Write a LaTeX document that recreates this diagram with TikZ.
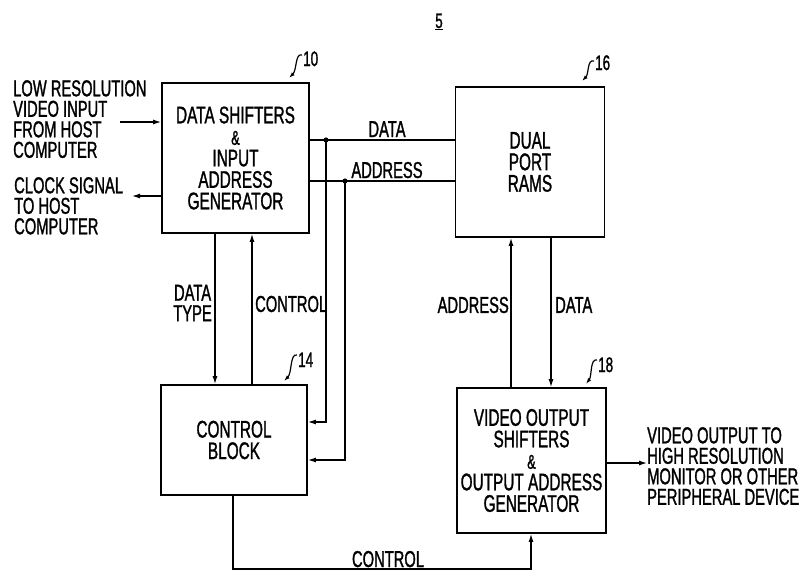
\documentclass[tikz,border=0pt]{standalone}
\usepackage{fontspec}
\usepackage{tikz}
\usetikzlibrary{arrows.meta}

\newfontfamily\patfont{Liberation Sans}[FakeStretch=0.64, FakeBold=1.2]

\tikzset{
  box/.style={draw, line width=1.8pt, inner sep=0pt, align=center,
    font=\patfont\fontsize{24}{21.5}\selectfont},
  wire/.style={line width=1.2pt},
  sig/.style={line width=1.2pt, -{Latex[length=8pt,width=5pt]}},
  lead/.style={line width=1.2pt, -{Latex[length=6pt,width=4pt]}},
  lbl/.style={inner sep=0pt, font=\patfont\fontsize{23}{20.5}\selectfont},
  refnum/.style={inner sep=0pt, font=\patfont\fontsize{21}{21}\selectfont}
}

\begin{document}
\begin{tikzpicture}[x=1pt, y=-1pt]
            \useasboundingbox (0,0) rectangle (810,571);

            % blocks
            \node[box, minimum width=147pt, minimum height=150pt] (b10) at (235.5,158)
                {DATA SHIFTERS\\{\fontsize{20}{21.5}\selectfont\&}\\INPUT\\ADDRESS\\GENERATOR};
            \node[box, minimum width=149pt, minimum height=150pt] (b16) at (530,162)
                {DUAL\\PORT\\RAMS};
            \node[box, minimum width=146pt, minimum height=110pt] (b14) at (234,440)
                {CONTROL\\BLOCK};
            \node[box, minimum width=149pt, minimum height=145pt] (b18) at (531.5,460.5)
                {VIDEO OUTPUT\\SHIFTERS\\{\fontsize{20}{21.5}\selectfont\&}\\OUTPUT ADDRESS\\GENERATOR};

            % free ends and bends
            \coordinate (vin) at (120,122);
            \coordinate (clk) at (132,196);
            \coordinate (dj) at (326,140);
            \coordinate (aj) at (345,181);
            \coordinate (d14) at (0,422);
            \coordinate (a14) at (0,460);
            \coordinate (dtx) at (215,0);
            \coordinate (ctx) at (252,0);
            \coordinate (ax) at (511,0);
            \coordinate (dx) at (551,0);
            \coordinate (cx) at (233,0);
            \coordinate (cb) at (531,569);
            \coordinate (vout) at (647,463);

            % outside signals
            \node[lbl, anchor=north west, align=left] (lowres) at (13,80)
                {LOW RESOLUTION\\VIDEO INPUT\\FROM HOST\\COMPUTER};
            \node[lbl, anchor=north west, align=left] (clock) at (14,177)
                {CLOCK SIGNAL\\TO HOST\\COMPUTER};
            \node[lbl, anchor=north west, align=left] (hires) at (647,427)
                {VIDEO OUTPUT TO\\HIGH RESOLUTION\\MONITOR OR OTHER\\PERIPHERAL DEVICE};

            \draw[sig] (vin) -- (vin -| b10.west);
            \draw[sig] (b10.west |- clk) -- (clk);
            \draw[sig] (b18.east |- vout) -- (vout);

            % buses to the rams
            \draw[wire] (b10.east |- dj) -- (b16.west |- dj);
            \draw[wire] (b10.east |- aj) -- (b16.west |- aj);
            \fill (dj) circle (2.6);
            \fill (aj) circle (2.6);
            \draw[sig] (dj) |- (b14.east |- d14);
            \draw[sig] (aj) |- (b14.east |- a14);

            \draw[sig] (b10.south -| dtx) -- (b14.north -| dtx);
            \draw[sig] (b14.north -| ctx) -- (b10.south -| ctx);
            \draw[sig] (b18.north -| ax) -- (b16.south -| ax);
            \draw[sig] (b16.south -| dx) -- (b18.north -| dx);
            \draw[sig] (b14.south -| cx) |- (cb) -- (b18.south -| cb);

            % line labels
            \node[lbl, anchor=base] (ldata) at (387,137) {DATA};
            \node[lbl, anchor=base] (laddr) at (387,178) {ADDRESS};
            \node[lbl, anchor=east, align=center] (ltype) at (212,303) {DATA\\TYPE};
            \node[lbl, anchor=west] (lctrl) at (255,304) {CONTROL};
            \node[lbl, anchor=east] (laddr2) at (509,305) {ADDRESS};
            \node[lbl, anchor=west] (ldata2) at (555,305) {DATA};
            \node[lbl, anchor=base] (lctrl2) at (388,567) {CONTROL};

            % reference numerals
            \node[refnum, anchor=base] (fig) at (439,28) {\underline{5}};
            \node[refnum, anchor=base west] (n10) at (303,66) {10};
            \node[refnum, anchor=base west] (n16) at (595,70) {16};
            \node[refnum, anchor=base west] (n14) at (298,367) {14};
            \node[refnum, anchor=base west] (n18) at (598,372) {18};
            \draw[lead] (302,55) .. controls (295,53) and (297,70) .. (289,78);
            \draw[lead] (594,61) .. controls (587,59) and (589,74) .. (582,81);
            \draw[lead] (297,355) .. controls (290,353) and (292,373) .. (284,381);
            \draw[lead] (597,360) .. controls (590,358) and (592,376) .. (586,384);
        \end{tikzpicture}
\end{document}
